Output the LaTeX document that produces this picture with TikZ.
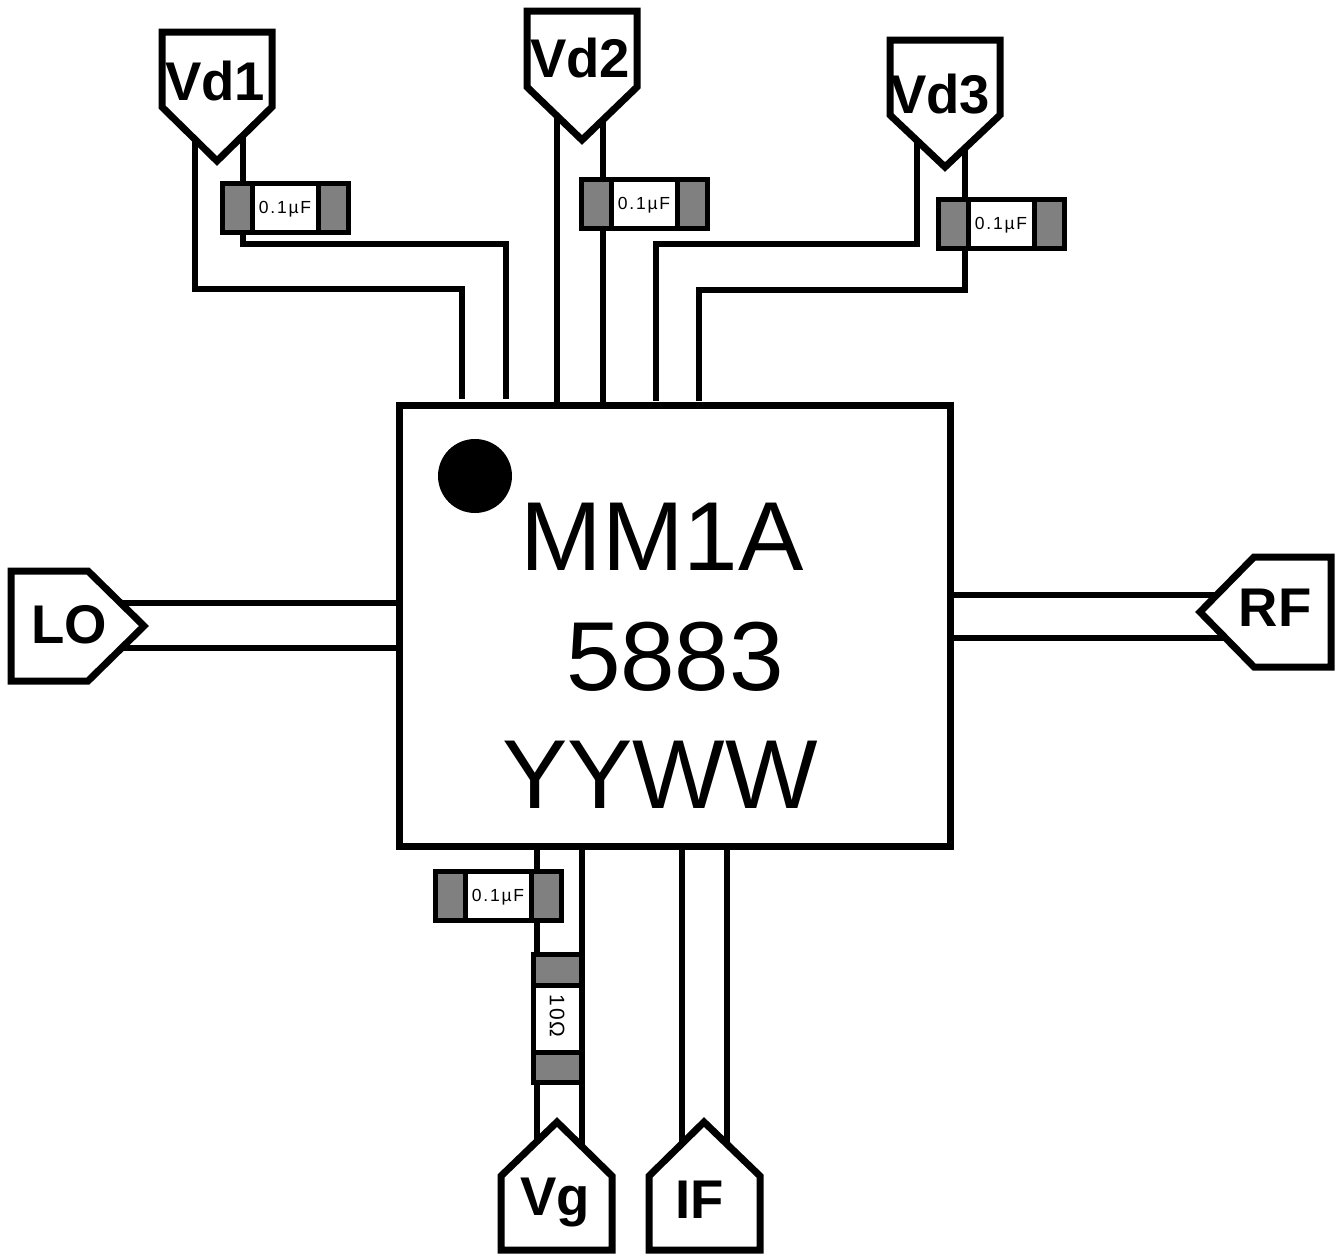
\documentclass[tikz,border=0pt]{standalone}
\usepackage{fontspec}
\setmainfont{Liberation Sans}
\newfontfamily\spacedfont[LetterSpace=10]{Liberation Sans}
\definecolor{partgray}{HTML}{808080}
\tikzset{
  wire/.style={line width=6.5pt,line cap=butt,line join=miter},
  portshape/.style={draw=black,fill=white,line width=7pt,line join=miter},
  portlabel/.style={inner sep=0pt,anchor=base,font=\fontsize{54.5}{54.5}\selectfont\bfseries},
  chiplabel/.style={inner sep=0pt,anchor=base,font=\fontsize{98}{98}\selectfont},
  partbody/.style={draw=black,fill=white,line width=5pt},
  partend/.style={draw=black,fill=partgray,line width=5pt},
  partlabel/.style={inner sep=0pt,font=\fontsize{17.5}{17.5}\selectfont\spacedfont},
  reslabel/.style={inner sep=0pt,rotate=-90,font=\fontsize{21}{21}\selectfont\spacedfont},
}
% horizontal capacitor, centred
\newcommand{\hcap}[3]{%
  \draw[partbody] (#2-63,#3-24.5) rectangle (#2+63,#3+24.5);
  \draw[partend] (#2-63,#3-24.5) rectangle (#2-33,#3+24.5);
  \draw[partend] (#2+33,#3-24.5) rectangle (#2+63,#3+24.5);
  \node[partlabel] (#1) at (#2,#3+1.5) {0.1µF};
}
\begin{document}
\begin{tikzpicture}[x=1pt,y=-1pt]
\useasboundingbox (0,0) rectangle (1335,1253);
\fill[white] (0,0) rectangle (1335,1253);

% wire end points (port ends lie under the white port shapes)
\coordinate (vd1a) at (195,125);
\coordinate (vd1b) at (243,125);
\coordinate (vd2a) at (557,100);
\coordinate (vd2b) at (603,100);
\coordinate (vd3a) at (917,130);
\coordinate (vd3b) at (965,130);
\coordinate (topa) at (462,399);
\coordinate (topb) at (506,399);
\coordinate (topc) at (557,403);
\coordinate (topd) at (603,403);
\coordinate (tope) at (656,401);
\coordinate (topf) at (699,401);
\coordinate (loa) at (100,603);
\coordinate (lob) at (100,648);
\coordinate (lefta) at (398,603);
\coordinate (leftb) at (398,648);
\coordinate (rfa) at (1245,595);
\coordinate (rfb) at (1245,638);
\coordinate (righta) at (953,595);
\coordinate (rightb) at (953,638);
\coordinate (bota) at (537,848);
\coordinate (botb) at (582,848);
\coordinate (botc) at (682,848);
\coordinate (botd) at (727,848);
\coordinate (vga) at (537,1165);
\coordinate (vgb) at (582,1165);
\coordinate (ifa) at (682,1165);
\coordinate (ifb) at (727,1165);

% wires
\draw[wire] (vd1a) -- ++(0,164) -| (topa);
\draw[wire] (vd1b) -- ++(0,119) -| (topb);
\draw[wire] (vd2a) -- (topc);
\draw[wire] (vd2b) -- (topd);
\draw[wire] (vd3a) -- ++(0,114) -| (tope);
\draw[wire] (vd3b) -- ++(0,160) -| (topf);
\draw[wire] (loa) -- (lefta);
\draw[wire] (lob) -- (leftb);
\draw[wire] (rfa) -- (righta);
\draw[wire] (rfb) -- (rightb);
\draw[wire] (bota) -- (vga);
\draw[wire] (botb) -- (vgb);
\draw[wire] (botc) -- (ifa);
\draw[wire] (botd) -- (ifb);

% chip
\node[draw=black,fill=white,line width=7pt,minimum width=551pt,minimum height=441pt,inner sep=0pt,outer sep=0pt] (chip) at (674.5,625.5) {};
\fill[black] (475,476) circle (37);
\node[chiplabel] (mark1) at (662,570) {MM1A};
\node[chiplabel] (mark2) at (675,690) {5883};
\node[chiplabel] (mark3) at (660,808) {YYWW};

% ports
\draw[portshape] (162,32) -- (272,32) -- (272,107) -- (217,161) -- (162,107) -- cycle;
\node[portlabel] (vd1) at (215,100.5) {Vd1};
\draw[portshape] (527,11) -- (637,11) -- (637,87) -- (582,140) -- (527,87) -- cycle;
\node[portlabel] (vd2) at (580,77.5) {Vd2};
\draw[portshape] (890,40) -- (1000,40) -- (1000,115) -- (945,167) -- (890,115) -- cycle;
\node[portlabel] (vd3) at (940,113.5) {Vd3};
\draw[portshape] (11,571) -- (88,571) -- (144,626) -- (88,681) -- (11,681) -- cycle;
\node[portlabel] (lo) at (69,643) {LO};
\draw[portshape] (1331,557) -- (1254,557) -- (1200,612) -- (1254,667) -- (1331,667) -- cycle;
\node[portlabel] (rf) at (1275,626) {RF};
\draw[portshape] (501,1250) -- (612,1250) -- (612,1176) -- (557,1122) -- (501,1176) -- cycle;
\node[portlabel] (vg) at (555,1215) {Vg};
\draw[portshape] (649,1250) -- (760,1250) -- (760,1176) -- (704,1122) -- (649,1176) -- cycle;
\node[portlabel] (if) at (700,1218) {IF};

% capacitors
\hcap{capa}{285}{208}
\hcap{capb}{644}{204}
\hcap{capc}{1001}{223.5}
\hcap{capd}{498}{896}

% resistor
\draw[partbody] (533.5,954) rectangle (581,1082);
\draw[partend] (533.5,954) rectangle (581,985);
\draw[partend] (533.5,1052) rectangle (581,1082);
\node[reslabel] (res) at (557,1016) {10Ω};
\end{tikzpicture}
\end{document}
